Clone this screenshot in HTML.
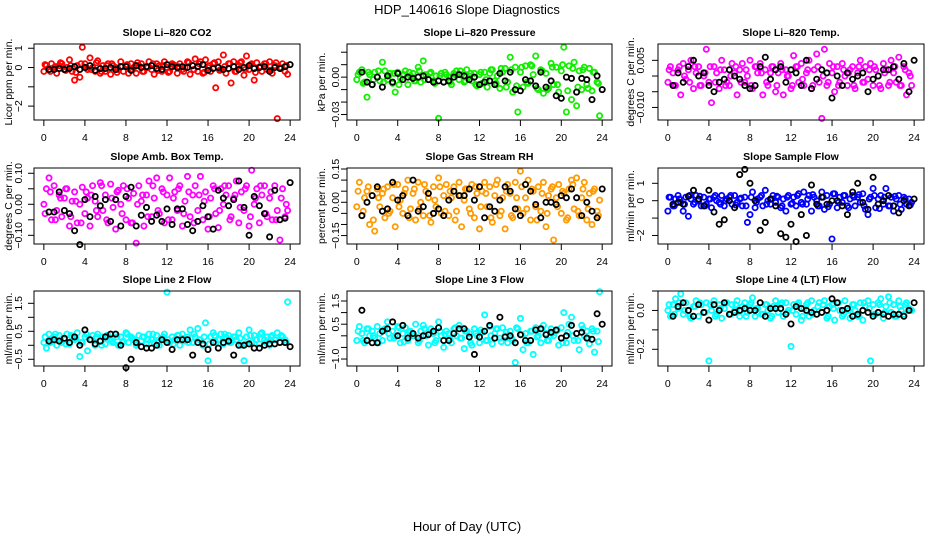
<!DOCTYPE html>
<html><head><meta charset="utf-8"><style>
body{margin:0;background:#fff;}
svg{display:block;font-family:"Liberation Sans",Arial,sans-serif;}
</style></head><body>
<svg id="chart" width="936" height="540" viewBox="0 0 936 540" xmlns="http://www.w3.org/2000/svg">
<text x="467" y="14" font-size="13" text-anchor="middle">HDP_140616  Slope Diagnostics</text>
<text x="467" y="531" font-size="13" text-anchor="middle">Hour of Day (UTC)</text>
</svg>
<script>
const hours=[0,0.25,0.5,0.75,1,1.25,1.5,1.75,2,2.25,2.5,2.75,3,3.25,3.5,3.75,4,4.25,4.5,4.75,5,5.25,5.5,5.75,6,6.25,6.5,6.75,7,7.25,7.5,7.75,8,8.25,8.5,8.75,9,9.25,9.5,9.75,10,10.25,10.5,10.75,11,11.25,11.5,11.75,12,12.25,12.5,12.75,13,13.25,13.5,13.75,14,14.25,14.5,14.75,15,15.25,15.5,15.75,16,16.25,16.5,16.75,17,17.25,17.5,17.75,18,18.25,18.5,18.75,19,19.25,19.5,19.75,20,20.25,20.5,20.75,21,21.25,21.5,21.75,22,22.25,22.5,22.75,23,23.25,23.5,23.75];
const hoursB=[0.125,0.625,1.125,1.625,2.125,2.625,3.125,3.625,4.125,4.625,5.125,5.625,6.125,6.625,7.125,7.625,8.125,8.625,9.125,9.625,10.125,10.625,11.125,11.625,12.125,12.625,13.125,13.625,14.125,14.625,15.125,15.625,16.125,16.625,17.125,17.625,18.125,18.625,19.125,19.625,20.125,20.625,21.125,21.625,22.125,22.625,23.125,23.625];
const hoursK=[0.5,1,1.5,2,2.5,3,3.5,4,4.5,5,5.5,6,6.5,7,7.5,8,8.5,9,9.5,10,10.5,11,11.5,12,12.5,13,13.5,14,14.5,15,15.5,16,16.5,17,17.5,18,18.5,19,19.5,20,20.5,21,21.5,22,22.5,23,23.5,24];
const xTicks=[0,4,8,12,16,20,24];

const co2Vals=[-0.2,0.1,-0.1,0.2,0.0,-0.3,0.1,0.2,-0.1,0.0,0.4,-0.2,-0.65,0.1,-0.5,1.05,0.2,-0.1,0.5,0.0,-0.2,0.35,-0.3,0.1,-0.2,0.2,-0.35,0.1,0.0,-0.1,0.3,-0.2,0.1,-0.3,0.2,0.0,-0.3,0.1,0.2,-0.2,0.0,0.3,-0.1,-0.35,0.2,0.1,-0.2,0.3,0.0,-0.2,0.2,0.1,-0.3,0.2,-0.1,0.0,0.3,-0.35,0.1,0.45,-0.2,0.3,-0.3,0.4,0.0,-0.2,0.2,-1.05,0.3,-0.1,0.65,-0.3,0.2,-0.8,0.3,-0.2,0.1,0.3,-0.4,0.6,-0.1,0.2,-0.65,0.25,0.0,-0.2,0.2,-0.1,0.3,-0.3,0.1,-2.65,0.0,0.2,-0.2,-0.35];
const co2ValsB=[0.15,-0.2,0.05,0.25,-0.15,0.1,-0.25,0.2,0.0,-0.1,0.25,-0.2,0.1,0.2,-0.25,0.05,0.15,-0.1,0.25,-0.2,0.0,0.2,-0.15,0.1,-0.25,0.15,0.05,-0.2,0.25,-0.1,0.2,-0.25,0.1,0.25,-0.15,0.05,0.2,-0.2,0.25,-0.1,0.15,-0.25,0.05,0.2,-0.15,0.25,-0.05,0.1];
const co2Ref=[-0.1,-0.1,-0.05,-0.1,-0.05,0.05,-0.1,0.0,0.1,-0.15,-0.05,-0.05,0.0,-0.1,0.05,0.05,-0.15,0.1,0.0,0.05,0.1,-0.05,-0.1,0.15,0.05,0.0,0.05,0.0,0.1,0.05,0.15,-0.15,-0.05,0.0,-0.1,-0.05,0.05,-0.1,0.0,0.1,-0.05,0.0,0.05,-0.2,0.0,-0.05,0.05,0.15];
const presVals=[-0.002,0.004,0.006,-0.004,-0.016,0.002,-0.006,0.004,0.000,-0.003,0.012,0.005,-0.002,0.003,-0.005,-0.012,0.004,-0.001,0.002,0.005,-0.006,0.001,0.003,-0.003,0.008,-0.004,0.013,0.002,-0.002,0.004,-0.003,0.001,-0.033,0.003,-0.004,0.002,0.000,-0.006,0.003,0.005,-0.002,0.002,-0.004,0.006,0.001,-0.003,0.003,-0.007,0.002,-0.005,0.004,-0.008,0.003,0.006,-0.003,0.001,-0.009,0.004,0.007,-0.004,0.016,-0.012,0.008,-0.028,0.004,-0.008,0.009,-0.005,0.010,0.002,0.017,-0.010,0.006,-0.013,0.003,-0.009,0.011,-0.006,0.008,-0.012,0.005,0.024,-0.028,0.009,-0.018,0.012,-0.023,0.005,-0.010,0.008,-0.006,0.007,-0.011,0.004,-0.004,-0.031];
const presValsB=[0.002,-0.005,0.004,-0.002,0.005,-0.004,0.001,0.003,-0.006,0.002,0.004,-0.003,0.005,-0.002,0.003,-0.005,0.001,0.004,-0.004,0.002,0.005,-0.003,0.003,-0.006,0.004,-0.002,0.006,-0.005,0.007,-0.008,0.006,-0.007,0.008,-0.004,0.009,-0.009,0.005,-0.010,0.008,-0.006,0.010,-0.011,0.007,-0.008,0.006,-0.009,0.004,-0.005];
const presRef=[0.004,-0.004,-0.006,0.000,-0.008,0.001,-0.004,0.003,-0.002,0.000,-0.001,0.000,0.001,-0.002,-0.004,-0.003,-0.004,-0.003,0.000,0.002,0.001,-0.002,0.000,-0.006,-0.004,-0.003,-0.006,0.003,-0.003,0.004,-0.010,-0.011,-0.002,-0.003,-0.007,0.004,-0.008,-0.003,-0.015,-0.017,0.000,-0.001,-0.012,-0.001,-0.002,-0.018,0.001,-0.010];
const tempVals=[-0.002,0.003,0.001,-0.003,0.002,-0.006,0.004,-0.001,0.002,0.005,-0.004,0.001,0.003,-0.003,0.000,0.0085,-0.002,-0.0085,0.003,0.001,-0.004,0.005,0.002,-0.002,-0.003,0.004,0.001,-0.006,0.002,0.004,-0.002,0.000,0.005,-0.004,0.003,0.001,0.004,-0.006,0.002,-0.003,0.001,0.003,-0.005,0.001,0.004,-0.006,0.002,0.000,-0.004,0.0065,0.003,-0.002,0.004,-0.003,0.001,0.005,-0.004,0.002,0.007,-0.002,-0.0135,0.0085,-0.003,0.004,0.001,-0.005,0.003,-0.002,0.004,0.000,-0.003,0.002,0.003,-0.004,0.001,0.005,-0.002,0.003,-0.001,0.004,-0.003,0.002,0.000,-0.004,0.004,0.002,-0.003,0.005,0.001,-0.002,0.006,-0.003,0.003,-0.006,0.001,-0.003];
const tempValsB=[0.002,-0.003,0.003,0.000,-0.002,0.003,-0.003,0.001,0.003,-0.002,0.002,-0.003,0.000,0.003,-0.002,0.002,-0.003,0.003,0.001,-0.002,0.003,-0.003,0.002,0.000,-0.003,0.003,-0.001,0.002,-0.003,0.003,0.000,-0.002,0.003,-0.003,0.002,0.001,-0.003,0.003,-0.002,0.002,0.003,-0.003,0.001,-0.002,0.003,-0.003,0.002,0.000];
const tempRef=[-0.003,0.001,-0.002,0.003,0.005,0.000,0.001,-0.003,-0.005,-0.002,-0.001,0.002,0.000,-0.001,-0.003,-0.004,-0.003,0.003,0.006,-0.001,0.002,0.003,-0.002,0.002,0.001,-0.003,0.005,-0.004,-0.001,0.002,0.001,-0.007,0.000,-0.003,0.001,-0.001,0.000,0.001,-0.005,-0.001,0.000,0.002,0.002,0.003,-0.001,0.004,-0.005,0.005];
const ambVals=[0.0,0.05,0.085,-0.05,0.06,-0.02,0.03,-0.04,0.02,0.05,-0.07,0.01,0.04,-0.06,0.0,0.055,-0.03,0.02,-0.07,0.06,0.01,-0.04,0.07,-0.02,0.03,-0.06,0.065,-0.01,-0.08,0.045,0.0,0.06,-0.05,0.02,-0.06,0.035,-0.125,0.06,0.01,-0.07,0.03,0.075,-0.04,0.02,0.085,-0.03,0.05,-0.06,0.03,0.085,-0.05,0.04,-0.02,0.06,-0.07,0.01,0.09,-0.04,0.03,0.06,-0.02,0.09,-0.05,0.04,-0.08,0.02,0.06,-0.03,-0.075,0.05,0.0,0.03,0.06,-0.04,0.02,0.075,-0.06,0.04,-0.02,0.06,-0.07,0.11,0.0,0.05,-0.06,0.03,0.06,-0.04,0.02,-0.05,0.06,-0.02,-0.115,0.05,-0.04,-0.02];
const ambValsB=[-0.03,0.04,-0.05,0.02,0.05,-0.04,0.01,-0.06,0.04,0.03,-0.02,0.06,-0.05,0.02,0.04,-0.03,0.05,-0.06,0.0,0.03,-0.04,0.06,-0.02,0.04,-0.05,0.02,0.05,-0.03,0.04,-0.06,0.03,0.01,-0.04,0.05,-0.02,0.06,-0.05,0.03,-0.01,0.05,-0.04,0.02,0.06,-0.03,0.04,-0.05,0.02,0.0];
const ambRef=[-0.025,-0.025,0.04,-0.02,-0.03,-0.085,-0.13,0.015,-0.04,0.025,-0.005,0.015,-0.055,0.015,-0.07,0.025,0.055,-0.07,-0.035,-0.01,-0.055,-0.035,-0.055,-0.015,-0.065,-0.015,-0.015,-0.065,-0.085,-0.055,-0.005,-0.04,-0.08,0.045,0.02,-0.005,0.015,0.075,-0.01,-0.1,0.025,-0.005,-0.03,-0.105,0.045,-0.05,-0.045,0.07];
const rhVals=[-0.02,0.09,-0.06,0.02,0.05,-0.1,0.03,-0.13,0.06,-0.02,0.04,-0.07,0.07,-0.04,0.02,-0.11,0.08,0.01,-0.05,0.06,0.1,-0.03,0.04,-0.08,0.09,0.0,-0.06,0.05,0.02,-0.09,0.07,-0.02,0.11,-0.05,0.03,0.08,-0.06,0.02,0.07,-0.04,0.09,-0.11,0.01,0.06,-0.03,0.08,-0.07,0.04,-0.12,0.05,0.09,-0.02,0.07,-0.09,0.03,0.1,-0.06,0.02,-0.12,0.08,0.04,-0.07,0.09,-0.03,0.14,-0.05,0.02,0.1,-0.08,0.05,-0.02,0.07,-0.04,0.09,-0.11,0.03,0.06,-0.17,0.02,0.08,-0.05,0.04,-0.08,0.06,0.1,-0.03,0.11,-0.06,0.02,0.09,-0.08,0.04,-0.1,0.06,-0.04,0.01];
const rhValsB=[0.05,-0.04,0.07,-0.08,0.02,0.06,-0.05,0.08,-0.02,0.04,-0.07,0.06,-0.03,0.08,-0.06,0.01,0.07,-0.04,0.05,-0.08,0.03,0.06,-0.05,0.07,-0.02,0.04,-0.07,0.08,-0.04,0.05,-0.06,0.02,0.07,-0.03,0.06,-0.08,0.04,-0.05,0.07,-0.02,0.05,-0.07,0.08,-0.04,0.06,-0.03,0.05,-0.06];
const rhRef=[-0.06,0.0,0.03,0.07,-0.04,-0.03,0.09,0.01,0.03,-0.06,0.1,-0.04,-0.02,0.04,-0.05,-0.03,-0.06,0.01,0.05,0.03,0.03,0.06,0.01,0.07,-0.07,-0.02,-0.04,0.01,0.07,0.05,-0.03,-0.06,0.08,0.05,-0.01,-0.07,0.0,0.0,-0.01,0.03,0.02,0.06,0.02,-0.06,0.0,-0.04,-0.07,0.06];
const sampVals=[-0.6,0.2,-0.3,0.1,0.3,-0.1,-0.6,0.2,-0.9,0.1,-0.2,0.3,0.0,-0.3,0.2,-0.2,0.1,-0.4,0.2,0.0,-0.1,0.3,-0.3,0.1,0.2,-0.2,0.3,-0.1,0.1,-0.3,0.2,-1.25,-0.8,0.5,-0.4,0.1,0.2,-0.3,0.6,0.0,-0.2,0.3,-0.1,0.2,-0.4,0.1,-0.6,0.3,-0.2,0.2,-0.3,0.4,-0.1,0.5,-0.2,0.3,-0.6,0.2,0.0,-0.3,0.5,-0.5,0.3,-0.2,-2.2,0.4,-0.4,0.2,-0.1,0.3,-0.3,0.1,0.3,-0.3,0.2,-0.1,0.4,-0.5,-0.8,0.2,0.7,-0.4,0.1,0.3,-0.2,0.7,-0.3,0.2,-0.6,0.1,0.3,-0.5,0.2,-0.2,0.1,-0.1];
const sampValsB=[0.2,-0.3,0.1,-0.2,0.3,-0.1,0.25,-0.3,0.1,0.3,-0.2,0.0,0.3,-0.25,0.15,-0.3,0.2,-0.1,0.3,-0.2,0.1,0.25,-0.3,0.2,-0.15,0.3,-0.2,0.1,0.35,-0.3,0.2,-0.35,0.4,-0.1,0.3,-0.4,0.2,0.35,-0.3,0.1,0.3,-0.45,0.2,-0.3,0.25,-0.2,0.1,-0.25];
const sampRef=[-0.2,-0.1,-0.2,0.25,0.6,0.1,-0.3,0.6,-0.65,-1.35,-1.1,0.0,-0.4,1.5,1.8,1.0,0.0,-1.7,-1.25,0.1,-0.3,-1.9,-2.1,-1.35,-2.35,-0.8,-2.0,0.9,-0.2,0.2,-0.2,0.0,0.0,-0.3,-0.8,0.5,1.0,-0.1,-0.5,1.35,-0.2,0.0,0.3,-0.3,-0.7,0.0,-0.3,0.1];
const l2Vals=[0.1,-0.1,0.4,0.2,0.3,0.0,0.35,0.1,0.2,0.4,0.05,0.3,0.2,0.45,-0.4,0.1,0.3,-0.2,0.2,0.35,0.0,0.4,0.15,0.3,0.05,0.35,0.2,0.1,0.4,0.0,0.3,0.15,0.45,0.1,0.3,0.2,0.0,0.35,0.15,0.3,0.05,0.4,0.2,0.1,0.35,0.0,0.25,0.4,1.9,0.1,0.3,0.2,0.35,0.0,0.4,0.15,0.3,0.55,0.1,0.3,0.6,0.2,0.0,0.8,-0.55,0.3,0.45,0.1,0.2,0.4,0.05,0.3,0.35,0.1,0.3,0.2,0.45,0.0,-0.55,0.3,0.55,0.1,0.35,0.2,0.05,0.45,0.2,0.3,0.0,0.35,0.2,0.45,0.1,0.3,0.2,1.55];
const l2ValsB=[0.3,0.1,0.4,0.2,0.05,0.35,0.25,0.1,0.4,0.2,0.3,0.0,0.35,0.15,0.3,0.1,0.4,0.25,0.05,0.3,0.2,0.4,0.1,0.3,0.2,0.05,0.35,0.25,0.1,0.4,0.2,0.3,0.05,0.35,0.2,0.4,0.1,0.3,0.25,0.05,0.35,0.2,0.4,0.1,0.3,0.2,0.35,0.1];
const l2Ref=[0.15,0.2,0.15,0.25,0.1,0.3,0.0,0.55,0.2,0.05,0.15,0.3,0.4,0.4,0.0,-0.8,-0.5,0.1,-0.05,-0.1,-0.1,0.0,0.2,0.1,-0.15,0.2,0.2,0.2,-0.35,0.1,0.05,-0.15,0.1,-0.1,0.1,0.15,-0.35,0.0,0.0,0.05,-0.1,-0.1,0.0,0.05,0.05,0.1,0.1,-0.05];
const l3Vals=[-0.2,0.4,0.1,-0.3,0.3,0.0,0.2,-0.1,0.4,0.1,-0.2,0.3,0.6,-0.1,0.2,0.0,0.4,-0.3,0.1,0.35,-0.2,0.2,0.0,0.5,-0.3,0.2,0.45,0.0,-0.4,0.3,0.1,-0.2,0.6,0.0,-0.5,0.2,0.1,-0.3,0.3,0.0,0.45,-0.1,-0.55,0.2,0.1,-0.4,0.3,0.0,-0.3,0.15,0.9,-0.2,0.4,-0.35,0.1,0.3,-0.1,0.35,0.0,-0.3,0.2,-0.2,-1.15,0.3,0.75,-0.6,0.1,-0.3,0.2,-0.8,0.35,0.0,-0.3,0.45,0.1,-0.2,0.3,0.0,0.2,-0.4,0.35,1.0,-0.3,0.5,0.8,-0.2,0.1,-0.6,0.45,0.0,0.2,-0.35,0.3,-0.7,0.2,1.9];
const l3ValsB=[0.2,-0.2,0.3,0.0,-0.3,0.25,0.1,-0.1,0.35,-0.25,0.15,0.0,-0.2,0.3,0.1,-0.3,0.2,0.05,-0.15,0.35,-0.1,0.2,-0.3,0.1,0.25,-0.2,0.0,0.3,-0.25,0.15,-0.1,0.35,0.05,-0.3,0.2,-0.05,0.3,-0.2,0.1,0.25,-0.3,0.15,0.0,-0.2,0.3,-0.1,0.2,-0.25];
const l3Ref=[1.1,-0.2,-0.3,-0.3,0.2,0.3,0.6,0.0,0.45,-0.1,0.1,-0.1,0.0,0.05,0.2,0.35,-0.2,-0.2,0.1,0.3,0.3,-0.05,-0.8,-0.05,0.2,0.45,-0.1,0.8,-0.05,0.0,-0.3,0.05,-0.2,-0.2,0.25,0.3,0.05,0.15,0.25,-0.1,0.0,0.45,0.1,0.15,-0.1,-0.15,0.95,0.5];
const l4Vals=[0.0,-0.03,0.03,0.06,0.01,0.085,-0.02,0.04,0.0,-0.04,0.02,0.05,-0.03,0.03,-0.01,0.04,-0.26,0.0,0.05,-0.02,0.03,-0.04,0.01,0.04,-0.02,0.03,0.0,0.05,-0.03,0.02,0.04,-0.01,0.03,0.065,-0.03,0.01,0.04,-0.02,0.03,0.0,-0.04,0.02,0.05,-0.01,0.03,-0.03,0.04,0.0,-0.185,0.03,-0.02,0.04,-0.05,0.01,0.03,-0.03,0.05,0.0,-0.02,0.04,-0.01,0.05,-0.04,0.02,0.03,-0.05,0.04,0.0,-0.03,0.05,0.01,-0.04,0.03,0.0,-0.03,0.04,-0.05,0.02,0.05,-0.26,0.03,-0.02,0.04,0.06,-0.04,0.02,0.07,-0.01,0.03,-0.03,0.05,0.0,-0.02,0.04,0.01,0.0];
const l4ValsB=[0.03,-0.02,0.04,0.0,-0.03,0.02,0.04,-0.01,0.03,-0.03,0.01,0.04,-0.02,0.03,0.0,-0.03,0.04,0.01,-0.02,0.03,-0.03,0.02,0.04,-0.01,0.0,0.03,-0.03,0.04,-0.02,0.02,0.03,-0.03,0.01,0.04,-0.02,0.0,0.03,-0.03,0.04,0.01,-0.02,0.03,-0.01,0.04,-0.03,0.02,0.03,0.0];
const l4Ref=[-0.03,0.02,0.04,0.0,-0.03,0.03,-0.01,-0.05,0.03,0.0,0.04,-0.02,-0.01,0.0,0.01,0.0,0.0,0.04,-0.03,0.01,0.01,0.01,-0.02,-0.07,0.02,0.01,0.0,-0.01,-0.02,-0.01,0.0,0.06,0.04,0.0,0.01,-0.03,-0.02,0.0,-0.01,-0.03,-0.01,-0.02,-0.03,-0.02,-0.02,-0.03,0.0,0.04];

const NS='http://www.w3.org/2000/svg';
const svg=document.getElementById('chart');
const cols=[{L:34,R:300,lab:18,tit:8},{L:347,R:612,lab:335,tit:321},{L:658,R:924,lab:640,tit:630}];
const rows=[{T:44,B:120},{T:168,B:244},{T:291,B:366}];
const panels=[
 {key:'co2',title:'Slope Li\u2013820 CO2',ytitle:'Licor ppm per min.',c:0,r:0,ymin:-2.72,ymax:1.22,ticks:[-2,-1,0,1],labels:[[1,'1'],[0,'0'],[-2,'\u22122']],color:'#ff0000',vals:co2Vals,valsB:co2ValsB,ref:co2Ref},
 {key:'pressure',title:'Slope Li\u2013820 Pressure',ytitle:'kPa per min.',c:1,r:0,ymin:-0.0344,ymax:0.0266,ticks:[-0.03,-0.02,-0.01,0,0.01,0.02],labels:[[0,'0.00'],[-0.03,'\u22120.03']],color:'#11ee00',vals:presVals,valsB:presValsB,ref:presRef},
 {key:'temp',title:'Slope Li\u2013820 Temp.',ytitle:'degrees C per min.',c:2,r:0,ymin:-0.0140,ymax:0.0102,ticks:[-0.01,-0.005,0,0.005],labels:[[0.005,'0.005'],[-0.01,'\u22120.010']],color:'#ff00ff',vals:tempVals,valsB:tempValsB,ref:tempRef},
 {key:'amb',title:'Slope Amb. Box Temp.',ytitle:'degrees C per min.',c:0,r:1,ymin:-0.128,ymax:0.117,ticks:[-0.1,-0.05,0,0.05,0.1],labels:[[0.1,'0.10'],[0,'0.00'],[-0.1,'\u22120.10']],color:'#ff00ff',vals:ambVals,valsB:ambValsB,ref:ambRef},
 {key:'rh',title:'Slope Gas Stream RH',ytitle:'percent per min.',c:1,r:1,ymin:-0.188,ymax:0.1545,ticks:[-0.15,-0.1,-0.05,0,0.05,0.1,0.15],labels:[[0.15,'0.15'],[0,'0.00'],[-0.15,'\u22120.15']],color:'#ff9a00',vals:rhVals,valsB:rhValsB,ref:rhRef},
 {key:'sample',title:'Slope Sample Flow',ytitle:'ml/min per min.',c:2,r:1,ymin:-2.49,ymax:1.88,ticks:[-2,-1,0,1],labels:[[1,'1'],[0,'0'],[-2,'\u22122']],color:'#0000ff',vals:sampVals,valsB:sampValsB,ref:sampRef},
 {key:'line2',title:'Slope Line 2 Flow',ytitle:'ml/min per min.',c:0,r:2,ymin:-0.74,ymax:1.94,ticks:[-0.5,0,0.5,1,1.5],labels:[[1.5,'1.5'],[0.5,'0.5'],[-0.5,'\u22120.5']],color:'#00ffff',vals:l2Vals,valsB:l2ValsB,ref:l2Ref},
 {key:'line3',title:'Slope Line 3 Flow',ytitle:'ml/min per min.',c:1,r:2,ymin:-1.30,ymax:1.93,ticks:[-1,-0.5,0,0.5,1,1.5],labels:[[1.5,'1.5'],[0.5,'0.5'],[-1,'\u22121.0']],color:'#00ffff',vals:l3Vals,valsB:l3ValsB,ref:l3Ref},
 {key:'line4',title:'Slope Line 4 (LT) Flow',ytitle:'ml/min per min.',c:2,r:2,ymin:-0.286,ymax:0.1,ticks:[-0.2,-0.1,0,0.1],labels:[[0,'0.0'],[-0.2,'\u22120.2']],color:'#00ffff',vals:l4Vals,valsB:l4ValsB,ref:l4Ref}
];
function mk(tag,attrs,parent){const e=document.createElementNS(NS,tag);for(const k in attrs)e.setAttribute(k,attrs[k]);(parent||svg).appendChild(e);return e;}
panels.forEach(p=>{
 const col=cols[p.c],row=rows[p.r];
 const xs=v=>col.L+(v+0.96)/25.92*(col.R-col.L);
 const ys=v=>row.B-(v-p.ymin)/(p.ymax-p.ymin)*(row.B-row.T);
 const g=mk('g',{});
 
 
 const t=mk('text',{x:(col.L+col.R)/2,y:row.T-8,'font-size':'10.5','font-weight':'bold','text-anchor':'middle'},g);
 t.textContent=p.title;
 
 
 const yt=mk('text',{x:0,y:0,'font-size':'10.5','text-anchor':'middle',transform:`translate(${col.tit+4},${(row.T+row.B)/2}) rotate(-90)`},g);
 yt.textContent=p.ytitle;
 
 
 const pts=mk('g',{fill:'none',stroke:p.color,'stroke-width':'1.8'},g);
 
 
 p.vals.forEach((v,i)=>{const c=mk('circle',{cx:xs(hours[i]).toFixed(1),cy:ys(v).toFixed(1),r:'2.6'},pts);
  
  });
 p.valsB.forEach((v,i)=>{const c=mk('circle',{cx:xs(hoursB[i]).toFixed(1),cy:ys(v).toFixed(1),r:'2.6'},pts);
  
  });
 const rp=mk('g',{fill:'none',stroke:'#000','stroke-width':'1.8'},g);
 
 
 p.ref.forEach((v,i)=>{const c=mk('circle',{cx:xs(hoursK[i]).toFixed(1),cy:ys(v).toFixed(1),r:'2.6'},rp);
  
  });
 const box=mk('rect',{x:col.L,y:row.T,width:col.R-col.L,height:row.B-row.T,fill:'none',stroke:'#000','stroke-width':'1'},g);
 
 
 const ax=mk('g',{stroke:'#000','stroke-width':'1'},g);
 
 
 xTicks.forEach(h=>{mk('line',{x1:xs(h),x2:xs(h),y1:row.B,y2:row.B+6},ax);
  const l=mk('text',{x:xs(h),y:row.B+21,'font-size':'10.5','text-anchor':'middle',stroke:'none'},ax);
  l.textContent=h;
  
  });
 p.ticks.forEach(v=>mk('line',{x1:col.L-6,x2:col.L,y1:ys(v),y2:ys(v)},ax));
 p.labels.forEach(([v,s])=>{const l=mk('text',{x:0,y:0,'font-size':'10.5','text-anchor':'middle',stroke:'none',transform:`translate(${col.lab+4},${ys(v)}) rotate(-90)`},ax);
  l.textContent=s;
  
  });
});
</script>
</body></html>
